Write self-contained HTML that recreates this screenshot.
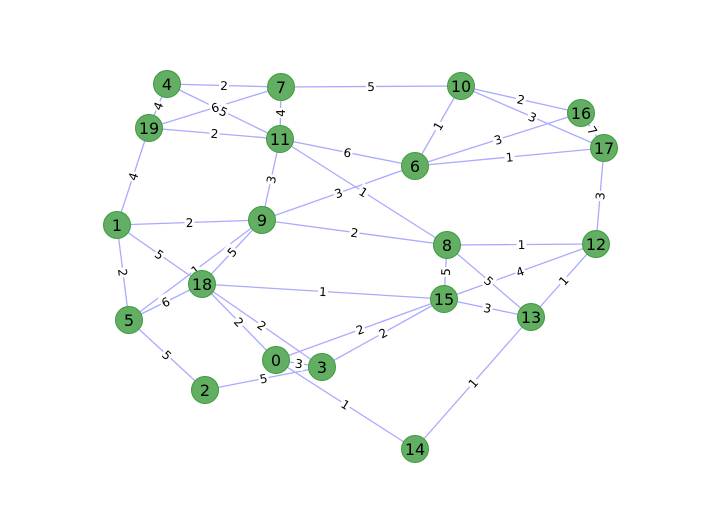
<!DOCTYPE html>
<html><head><meta charset="utf-8"><style>
html,body{margin:0;padding:0;background:#fff;width:704px;height:528px;overflow:hidden}
svg{display:block}
</style></head><body>
<svg id="g" width="704" height="528" viewBox="0 0 704 528">
<g id="edges"></g>
<g id="elabels"></g>
<g id="nodes"></g>
</svg>
<script>
const nodeIds=[0,1,2,3,4,5,6,7,8,9,10,11,12,13,14,15,16,17,18,19];
const nodeX=[276,117,205,322,167,129,415,281,447,262,461,280,596,531,415,444,581,604,202,149];
const nodeY=[360,225,390,367,84,320,166,87,245,220,86,139,244,317,449,299,113,148,284,128];
const edgeFrom=[4,4,7,19,7,19,4,11,11,11,10,10,10,16,6,6,6,17,1,9,8,8,8,12,12,1,1,5,18,5,18,18,18,5,2,0,0,3,15,0,14,19];
const edgeTo=[7,11,10,11,11,1,19,6,8,9,6,16,17,17,16,17,9,12,9,8,12,15,13,15,13,18,5,9,9,18,15,0,3,2,3,3,15,15,13,14,13,7];
const edgeW=[2,5,5,2,4,4,4,6,1,3,1,2,3,7,3,1,3,3,2,2,1,5,5,4,1,5,2,1,5,6,1,2,2,5,5,3,2,2,3,1,1,6];
const NS="http://www.w3.org/2000/svg";
const E=document.getElementById('edges'),L=document.getElementById('elabels'),N=document.getElementById('nodes');
for(let i=0;i<edgeFrom.length;i++){
 const a=edgeFrom[i],b=edgeTo[i];
 const x1=nodeX[a],y1=nodeY[a],x2=nodeX[b],y2=nodeY[b];
 const ln=document.createElementNS(NS,'line');
 ln.setAttribute('x1',x1);ln.setAttribute('y1',y1);ln.setAttribute('x2',x2);ln.setAttribute('y2',y2);
 ln.setAttribute('stroke','#aaaaff');ln.setAttribute('stroke-width','1.3');
 
 
 E.appendChild(ln);
 const mx=(x1+x2)/2,my=(y1+y2)/2;
 let ang=Math.atan2(y2-y1,x2-x1)*180/Math.PI;
 if(ang>90)ang-=180;if(ang<-90)ang+=180;
 const g=document.createElementNS(NS,'g');
 g.setAttribute('transform','translate('+mx+','+my+') rotate('+ang+')');
 
 
 const r=document.createElementNS(NS,'rect');
 r.setAttribute('x',-5);r.setAttribute('y',-8);r.setAttribute('width',10);r.setAttribute('height',15);r.setAttribute('fill','#fff');
 g.appendChild(r);
 const t=document.createElementNS(NS,'text');
 t.setAttribute('text-anchor','middle');t.setAttribute('y',4.5);
 t.setAttribute('font-family','DejaVu Sans, Liberation Sans, sans-serif');t.setAttribute('font-size','12');
 t.textContent=edgeW[i];
 g.appendChild(t);
 L.appendChild(g);
}
for(let i=0;i<nodeIds.length;i++){
 const g=document.createElementNS(NS,'g');
 
 
 const c=document.createElementNS(NS,'circle');
 c.setAttribute('cx',nodeX[i]);c.setAttribute('cy',nodeY[i]);c.setAttribute('r',13.5);
 c.setAttribute('fill','#62ae62');c.setAttribute('stroke','#3f9a3f');c.setAttribute('stroke-width','1');
 g.appendChild(c);
 const t=document.createElementNS(NS,'text');
 t.setAttribute('x',nodeX[i]);t.setAttribute('y',nodeY[i]+6);t.setAttribute('text-anchor','middle');
 t.setAttribute('font-family','DejaVu Sans, Liberation Sans, sans-serif');t.setAttribute('font-size','16');
 t.textContent=nodeIds[i];
 g.appendChild(t);
 N.appendChild(g);
}
</script>
</body></html>
